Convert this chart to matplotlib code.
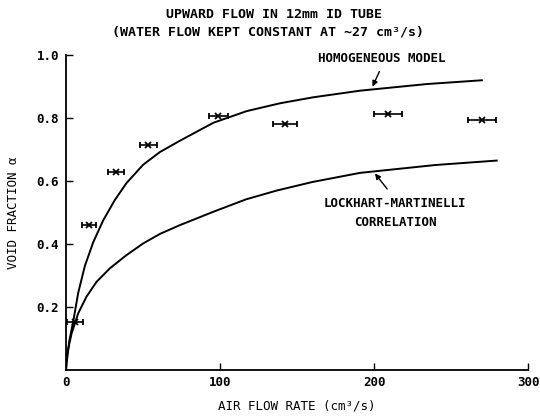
import matplotlib
matplotlib.use("Agg")
import matplotlib.pyplot as plt

# Measured void fraction vs. air flow rate (horizontal bars = flow uncertainty)
air_flow = [5.8, 15.0, 32.5, 53.5, 99.0, 142.0, 209.0, 270.0]
void_frac = [0.153, 0.46, 0.628, 0.713, 0.806, 0.78, 0.813, 0.794]
air_err = [5.0, 4.3, 5.0, 5.4, 6.0, 7.8, 9.0, 9.0]

# Homogeneous model curve
homog_x = [0, 2.2, 4.8, 8.0, 12.3, 17.7, 24.2, 31.8, 39.4, 50.2, 61.0, 74.0,
           95.7, 117.3, 139.0, 160.6, 191.0, 234.2, 270.0]
homog_y = [0, 0.092, 0.155, 0.245, 0.33, 0.405, 0.475, 0.54, 0.594, 0.652, 0.692, 0.728,
           0.785, 0.822, 0.847, 0.866, 0.887, 0.908, 0.92]

# Lockhart-Martinelli correlation curve
lm_x = [0, 0.4, 3.7, 8.0, 13.4, 19.9, 28.6, 39.4, 50.2, 61.0, 74.0,
        96.0, 117.0, 137.0, 160.0, 191.0, 240.0, 279.6]
lm_y = [0, 0.042, 0.116, 0.18, 0.233, 0.28, 0.323, 0.365, 0.402, 0.432, 0.46,
        0.503, 0.542, 0.57, 0.597, 0.626, 0.651, 0.665]

x_ticks = [0, 100, 200, 300]
x_tick_labels = ["0", "100", "200", "300"]
y_ticks = [0.2, 0.4, 0.6, 0.8, 1.0]
y_tick_labels = ["0.2", "0.4", "0.6", "0.8", "1.0"]

FONT = "DejaVu Sans Mono"
plt.rcParams["font.family"] = [FONT, "DejaVu Sans"]
plt.rcParams["font.weight"] = "bold"

fig = plt.figure(figsize=(5.40, 4.16), dpi=100)
ax = fig.add_axes([0.122, 0.1106, 0.856, 0.757])

ax.plot(homog_x, homog_y, color="black", lw=1.4, solid_joinstyle="round")
ax.plot(lm_x, lm_y, color="black", lw=1.4, solid_joinstyle="round")
ax.errorbar(air_flow, void_frac, xerr=air_err, fmt="x", color="black",
            ms=5, mew=1.3, elinewidth=1.2, capsize=2.5, capthick=1.0)

ax.set_xlim(0, 300)
ax.set_ylim(0, 1.0)
for side in ("top", "right"):
    ax.spines[side].set_visible(False)
for side in ("left", "bottom"):
    ax.spines[side].set_linewidth(1.3)

ax.set_xticks(x_ticks)
ax.set_xticklabels(x_tick_labels)
ax.set_yticks(y_ticks)
ax.set_yticklabels(y_tick_labels)
ax.tick_params(axis="both", direction="in", length=5, width=1.0,
               labelsize=9, pad=5)
ax.tick_params(axis="x", pad=4)

ax.set_xlabel("AIR FLOW RATE (cm³/s)", fontsize=9, labelpad=8)
ax.set_ylabel("VOID FRACTION α", fontsize=9, labelpad=12)

fig.text(0.507, 0.966, "UPWARD FLOW IN 12mm ID TUBE", ha="center", va="center", fontsize=9.5)
fig.text(0.497, 0.923, "(WATER FLOW KEPT CONSTANT AT ~27 cm³/s)", ha="center", va="center", fontsize=9.5)

arrow_style = dict(arrowstyle="-|>", color="black", lw=1.0,
                   shrinkA=0, shrinkB=0, mutation_scale=8)

ax.text(205, 0.99, "HOMOGENEOUS MODEL", ha="center", va="center", fontsize=9)
ax.annotate("", xy=(199, 0.90), xytext=(203.5, 0.948), arrowprops=arrow_style)

ax.text(213.6, 0.497, "LOCKHART-MARTINELLI\nCORRELATION", ha="center", va="center",
        fontsize=9, linespacing=1.6)
ax.annotate("", xy=(200.6, 0.624), xytext=(208.5, 0.575), arrowprops=arrow_style)

fig.savefig("out.png", dpi=100)
